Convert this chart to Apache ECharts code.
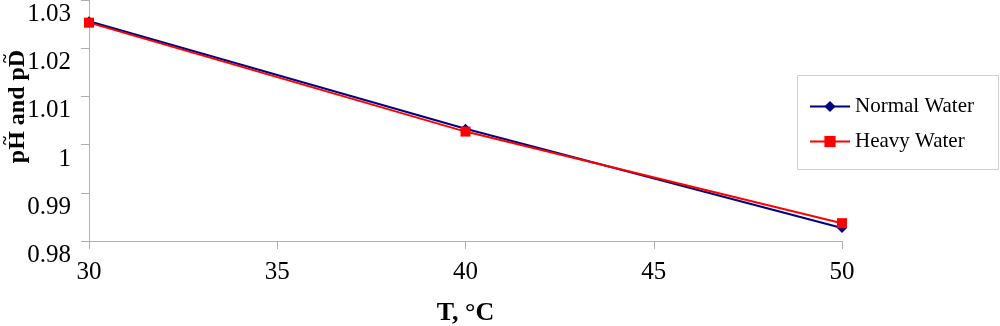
<!DOCTYPE html>
<html>
<head>
<meta charset="utf-8">
<script src="https://cdn.jsdelivr.net/npm/echarts@6/dist/echarts.min.js"></script>
<style>html,body{margin:0;padding:0;background:#fff}#c{width:1000px;height:326px}</style>
</head>
<body>
<div id="c"></div>
<script>
var temperatures = [30, 40, 50];
var normalWater = [1.0256, 1.0033, 0.9827];
var heavyWater = [1.0253, 1.0027, 0.9837];
var seriesNames = ['Normal Water', 'Heavy Water'];
var xTitle = 'T, \u00B0C';
var yTitleParts = ['p', 'H', ' and p', 'D'];
var tildeMark = '~';

var chart = echarts.init(document.getElementById('c'));
var font = '"Liberation Serif", "Times New Roman", serif';
function pairs(vals){ return temperatures.map(function(t,i){ return [t, vals[i]]; }); }

// measure title pieces so the tildes sit over H and D
var titleSize = 24;
var cv = document.createElement('canvas').getContext('2d');
cv.font = 'bold ' + titleSize + 'px ' + font;
var wP = cv.measureText(yTitleParts[0]).width;
var wH = cv.measureText(yTitleParts[1]).width;
var wA = cv.measureText(yTitleParts[2]).width;
var wD = cv.measureText(yTitleParts[3]).width;
var shift = 28;
var yName = '{sp0|\u00a0}{xp|\u00a0}{tH|' + tildeMark + '}{xa|\u00a0}{tD|' + tildeMark + '}\n' +
            '{sp|\u00a0}{m|' + yTitleParts.join('') + '}';

chart.setOption({
  animation: false,
  backgroundColor: '#fff',
  grid: { left: 89, right: 158, top: 0, bottom: 85, containLabel: false, outerBoundsMode: 'none' },
  graphic: [{
    type: 'rect', shape: { x: 797.5, y: 75.5, width: 201, height: 94 },
    style: { fill: '#fff', stroke: '#d0d0d0', lineWidth: 1 }, z: 0
  }],
  legend: {
    orient: 'vertical', left: 804, top: 91, itemWidth: 40, itemHeight: 14, itemGap: 14,
    data: seriesNames,
    textStyle: { fontFamily: font, fontSize: 21, color: '#000' }, z: 5
  },
  xAxis: {
    type: 'value', min: 30, max: 50, interval: 5,
    name: xTitle, nameLocation: 'middle', nameGap: 59, nameMoveOverlap: false,
    nameTextStyle: { fontFamily: font, fontSize: 26, fontWeight: 'bold', color: '#000' },
    axisLine: { lineStyle: { color: '#b0b0b0', width: 1 } },
    axisTick: { show: true, length: 8, inside: false, lineStyle: { color: '#b0b0b0' } },
    axisLabel: { fontFamily: font, fontSize: 25, color: '#000', margin: 19 },
    splitLine: { show: false }
  },
  yAxis: {
    type: 'value', min: 0.98, max: 1.03, interval: 0.01,
    name: yName, nameLocation: 'middle', nameGap: 60, nameRotate: 90, nameMoveOverlap: false,
    nameTextStyle: {
      fontFamily: font, fontSize: titleSize, fontWeight: 'bold', color: '#000',
      rich: {
        sp0: { width: shift, fontSize: 2, fontFamily: font, lineHeight: 2 },
        sp: { width: shift, fontSize: titleSize, fontWeight: 'bold', fontFamily: font, lineHeight: 22 },
        xp: { width: wP, fontSize: 2, fontFamily: font, lineHeight: 2 },
        xa: { width: wA, fontSize: 2, fontFamily: font, lineHeight: 2 },
        tH: { width: wH, align: 'center', fontSize: 17, fontWeight: 'bold', fontFamily: font, lineHeight: 2, color: '#000' },
        tD: { width: wD, align: 'center', fontSize: 17, fontWeight: 'bold', fontFamily: font, lineHeight: 2, color: '#000' },
        m: { fontSize: titleSize, fontWeight: 'bold', fontFamily: font, lineHeight: 22, color: '#000' }
      }
    },
    axisLine: { show: true, lineStyle: { color: '#b0b0b0', width: 1 } },
    axisTick: { show: true, length: 8, lineStyle: { color: '#b0b0b0' } },
    axisLabel: { fontFamily: font, fontSize: 25, color: '#000', margin: 18,
      formatter: function(v){
        return '{s|\u200b}\n{v|' + String(Math.round(v*100)/100) + '}';
      },
      rich: {
        s: { lineHeight: 29, fontSize: 10, fontFamily: font },
        v: { lineHeight: 26, fontSize: 25, fontFamily: font, color: '#000' }
      }
    },
    splitLine: { show: false }
  },
  series: [
    { name: seriesNames[0], type: 'line', data: pairs(normalWater), symbol: 'diamond', symbolSize: 10,
      lineStyle: { color: '#000080', width: 2 }, itemStyle: { color: '#000080' }, z: 3 },
    { name: seriesNames[1], type: 'line', data: pairs(heavyWater), symbol: 'rect', symbolSize: 10,
      lineStyle: { color: '#ff0000', width: 2 }, itemStyle: { color: '#ff0000' }, z: 4 }
  ]
});
</script>
</body>
</html>
